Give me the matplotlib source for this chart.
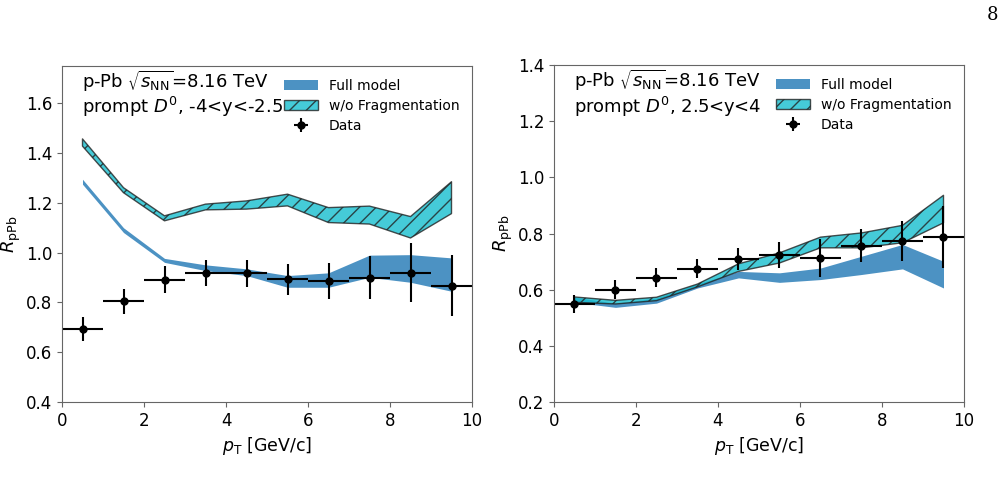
import matplotlib.pyplot as plt
import numpy as np

pt = [0.5, 1.5, 2.5, 3.5, 4.5, 5.5, 6.5, 7.5, 8.5, 9.5]

# backward rapidity, -4<y<-2.5
bw_data = [0.693, 0.805, 0.892, 0.919, 0.917, 0.893, 0.887, 0.900, 0.920, 0.867]
bw_err = [0.048, 0.050, 0.055, 0.053, 0.055, 0.063, 0.073, 0.085, 0.118, 0.122]
bw_full_lo = [1.275, 1.081, 0.961, 0.928, 0.908, 0.861, 0.861, 0.901, 0.881, 0.845]
bw_full_hi = [1.295, 1.100, 0.977, 0.951, 0.935, 0.908, 0.919, 0.990, 0.992, 0.979]
bw_nofrag_lo = [1.428, 1.241, 1.128, 1.172, 1.175, 1.188, 1.121, 1.115, 1.059, 1.157]
bw_nofrag_hi = [1.457, 1.261, 1.148, 1.195, 1.208, 1.235, 1.181, 1.187, 1.145, 1.285]

# forward rapidity, 2.5<y<4
fw_data = [0.549, 0.600, 0.642, 0.675, 0.710, 0.723, 0.713, 0.757, 0.773, 0.787]
fw_err = [0.032, 0.033, 0.034, 0.035, 0.040, 0.047, 0.067, 0.058, 0.071, 0.111]
fw_full_lo = [0.555, 0.537, 0.552, 0.606, 0.642, 0.626, 0.636, 0.654, 0.674, 0.606]
fw_full_hi = [0.573, 0.552, 0.570, 0.621, 0.665, 0.660, 0.677, 0.719, 0.761, 0.701]
fw_nofrag_lo = [0.555, 0.549, 0.561, 0.610, 0.665, 0.695, 0.749, 0.749, 0.767, 0.838]
fw_nofrag_hi = [0.574, 0.562, 0.573, 0.620, 0.692, 0.731, 0.787, 0.802, 0.829, 0.936]

fig = plt.figure(figsize=(10.04, 4.8), dpi=100)
ax1 = fig.add_axes([62 / 1004, 1 - 402 / 480, 410 / 1004, 336 / 480])
ax2 = fig.add_axes([554 / 1004, 1 - 402 / 480, 410 / 1004, 337 / 480])

panels = [
    (ax1, bw_data, bw_err, bw_full_lo, bw_full_hi, bw_nofrag_lo, bw_nofrag_hi,
     "prompt $D^0$, -4<y<-2.5", (0.4, 1.75), [0.4, 0.6, 0.8, 1.0, 1.2, 1.4, 1.6]),
    (ax2, fw_data, fw_err, fw_full_lo, fw_full_hi, fw_nofrag_lo, fw_nofrag_hi,
     "prompt $D^0$, 2.5<y<4", (0.2, 1.4), [0.2, 0.4, 0.6, 0.8, 1.0, 1.2, 1.4]),
]

for ax, d, e, flo, fhi, nlo, nhi, label, ylim, yticks in panels:
    ax.fill_between(pt, flo, fhi, color="#1f77b4", alpha=0.8, lw=0,
                    label="Full model")
    ax.fill_between(pt, nlo, nhi, facecolor="#17becf", alpha=0.8,
                    edgecolor="#222222", hatch="//", lw=1,
                    label="w/o Fragmentation")
    ax.errorbar(pt, d, xerr=0.5, yerr=e, fmt="o", color="black", ms=5,
                elinewidth=1.5, label="Data")
    ax.set_xlim(0, 10)
    ax.set_ylim(*ylim)
    ax.set_yticks(yticks)
    ax.set_xticks([0, 2, 4, 6, 8, 10])
    ax.tick_params(labelsize=12, color="#666666")
    for s in ax.spines.values():
        s.set_color("#666666")
    ax.set_xlabel(r"$p_{\mathrm{T}}$ [GeV/c]", fontsize=12.5)
    ax.set_ylabel(r"$R_{\mathrm{pPb}}$", fontsize=13, labelpad=2)
    ax.text(0.05, 0.955, r"p-Pb $\sqrt{s_{\mathrm{NN}}}$=8.16 TeV",
            transform=ax.transAxes, fontsize=13, va="center")
    ax.text(0.05, 0.877, label, transform=ax.transAxes, fontsize=13,
            va="center")
    ax.legend(loc="upper right", frameon=False, fontsize=10,
              bbox_to_anchor=(1.0, 1.0), handlelength=2.4,
              labelspacing=0.45)

fig.text(0.989, 0.968, "8", family="DejaVu Serif", fontsize=13,
         ha="center", va="center")

fig.savefig("out.png", dpi=100)
